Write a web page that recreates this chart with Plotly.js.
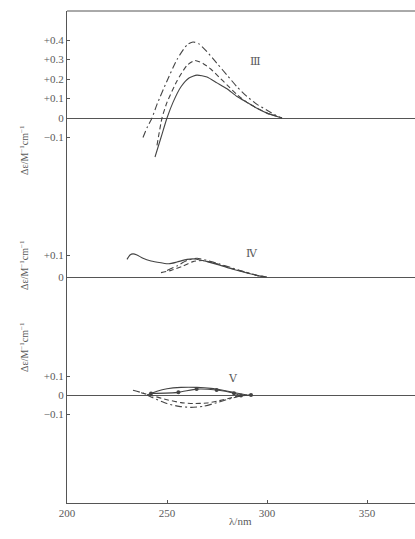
<!DOCTYPE html>
<html>
<head>
<meta charset="utf-8">
<script src="https://cdn.plot.ly/plotly-3.0.1.min.js"></script>
<style>html,body{margin:0;padding:0;background:#fff;}#chart{width:415px;height:539px;}</style>
</head>
<body>
<div id="chart"></div>
<script>
// ---------- data (wavelength nm, Δε) ----------
// Panel III
const iiiSolidX   = [244, 247, 250, 253, 257, 261, 265, 270, 275, 280, 285, 290, 295, 300, 305, 307.5];
const iiiSolidY   = [-0.20, -0.10, 0.0, 0.08, 0.16, 0.205, 0.22, 0.21, 0.18, 0.15, 0.11, 0.08, 0.05, 0.025, 0.008, 0.0];
const iiiDashX    = [245, 247.5, 250, 255, 260, 264, 268, 272, 276, 280, 285, 290, 295, 300, 305, 307.5];
const iiiDashY    = [-0.14, 0.0, 0.08, 0.19, 0.27, 0.295, 0.28, 0.25, 0.21, 0.17, 0.12, 0.08, 0.05, 0.025, 0.008, 0.0];
const iiiDashDotX = [238, 240, 242.5, 245, 250, 255, 260, 263, 266, 270, 275, 280, 285, 290, 295, 300, 305, 307.5];
const iiiDashDotY = [-0.10, -0.05, 0.0, 0.07, 0.19, 0.30, 0.375, 0.39, 0.38, 0.34, 0.28, 0.22, 0.16, 0.11, 0.07, 0.04, 0.01, 0.0];
// Panel IV
const ivSolidX    = [230, 231.5, 233, 235, 238, 242, 247, 251, 255, 260, 264, 270, 276, 283, 290, 296, 300];
const ivSolidY    = [0.08, 0.10, 0.105, 0.10, 0.085, 0.073, 0.065, 0.06, 0.068, 0.08, 0.082, 0.07, 0.055, 0.035, 0.018, 0.005, 0.0];
const ivDashX     = [247, 252, 258, 263, 268, 275, 282, 290, 296, 300];
const ivDashY     = [0.02, 0.03, 0.05, 0.07, 0.075, 0.06, 0.04, 0.02, 0.005, 0.0];
const ivDashDotX  = [250, 255, 260, 265, 270, 276, 283, 290, 296, 300];
const ivDashDotY  = [0.03, 0.05, 0.075, 0.085, 0.075, 0.06, 0.04, 0.02, 0.005, 0.0];
// Panel V
const vSolidX     = [240, 245, 250, 257, 265, 272, 278, 284, 290];
const vSolidY     = [0.0, 0.02, 0.033, 0.04, 0.04, 0.035, 0.025, 0.012, 0.0];
const vDotX       = [242, 255.7, 264.8, 274.8, 283.5, 287, 292];
const vDotY       = [0.008, 0.014, 0.031, 0.026, 0.009, -0.003, 0.0];
const vDashX      = [237, 243, 250, 257, 263, 270, 276, 282, 287, 291];
const vDashY      = [0.012, -0.005, -0.025, -0.04, -0.045, -0.042, -0.03, -0.015, -0.003, 0.0];
const vDashDotX   = [233, 238, 243, 250, 256, 262, 268, 275, 282, 288, 292];
const vDashDotY   = [0.025, 0.01, -0.015, -0.045, -0.06, -0.065, -0.06, -0.04, -0.018, -0.003, 0.0];

const xTickVals = [200, 250, 300, 350];
const iiiTickVals = [-0.1, 0, 0.1, 0.2, 0.3, 0.4];
const iiiTickText = ["\u22120.1", "0", "+0.1", "+0.2", "+0.3", "+0.4"];
const ivTickVals = [0, 0.1];
const ivTickText = ["0", "+0.1"];
const vTickVals = [-0.1, 0, 0.1];
const vTickText = ["\u22120.1", "0", "+0.1"];
const panelLabels = ["\u2162", "\u2163", "\u2164"];
const yTitle = "\u0394\u03b5/M<sup>\u22121</sup>cm<sup>\u22121</sup>";
const xTitle = "\u03bb/nm";

// ---------- layout geometry (pixels) ----------
const W = 415, H = 539;
const L = 67, R = 0, T = 11, B = 36;
const plotTop = T, plotBot = H - B, plotH = plotBot - plotTop;
function frac(py) { return (plotBot - py) / plotH; }
// panels: [top px, bottom px, zero px, px per unit]
const panels = [
  {top: 11, bot: 200, zero: 118, ppu: 195},
  {top: 200, bot: 340, zero: 277, ppu: 220},
  {top: 340, bot: 503, zero: 395, ppu: 190}
];
function yr(p) { return [-(p.bot - p.zero) / p.ppu, (p.zero - p.top) / p.ppu]; }

const lineCol = '#444444';
const axCol = '#555555';
const txtCol = '#5a5a5a';
const fontFam = '"Liberation Serif", "DejaVu Serif", serif';

function tr(x, y, ya, dash, extra) {
  const t = {x: x, y: y, xaxis: 'x', yaxis: ya, type: 'scatter', mode: 'lines',
    line: {color: lineCol, width: 1.1, dash: dash, shape: 'spline', smoothing: 0.55},
    hoverinfo: 'skip', showlegend: false};
  return Object.assign(t, extra || {});
}

const data = [
  tr(iiiSolidX, iiiSolidY, 'y', 'solid'),
  tr(iiiDashX, iiiDashY, 'y', '5px,3px'),
  tr(iiiDashDotX, iiiDashDotY, 'y', '7px,3px,2px,3px'),
  tr(ivSolidX, ivSolidY, 'y2', 'solid'),
  tr(ivDashX, ivDashY, 'y2', '5px,3px'),
  tr(ivDashDotX, ivDashDotY, 'y2', '7px,3px,2px,3px'),
  tr(vSolidX, vSolidY, 'y3', 'solid'),
  tr(vDotX, vDotY, 'y3', 'solid', {mode: 'lines+markers', marker: {size: 4, color: lineCol}}),
  tr(vDashX, vDashY, 'y3', '5px,3px'),
  tr(vDashDotX, vDashDotY, 'y3', '7px,3px,2px,3px')
];

function yax(p, tv, tt) {
  return {
    domain: [frac(p.bot), frac(p.top)], range: yr(p), anchor: 'x',
    showgrid: false, zeroline: true, zerolinecolor: axCol, zerolinewidth: 1,
    showline: true, linecolor: axCol, linewidth: 1,
    ticks: 'inside', ticklen: 3, tickcolor: axCol,
    tickvals: tv, ticktext: tt,
    tickfont: {family: fontFam, size: 11, color: txtCol}
  };
}

const pxX = xp => (xp - L) / (W - L - R);

const annotations = [
  {x: 294, y: 0.29, xref: 'x', yref: 'y', text: panelLabels[0]},
  {x: 292.5, y: 0.11, xref: 'x', yref: 'y2', text: panelLabels[1]},
  {x: 283, y: 0.09, xref: 'x', yref: 'y3', text: panelLabels[2]}
].map(a => Object.assign(a, {showarrow: false, font: {family: fontFam, size: 11, color: txtCol}}));

[[123], [265], [374]].forEach(function (c) {
  annotations.push({x: pxX(16), y: frac(c[0]), xref: 'paper', yref: 'paper', text: yTitle,
    textangle: -90, showarrow: false, font: {family: fontFam, size: 10, color: txtCol}});
});
annotations.push({x: 286.5, y: frac(529), xref: 'x', yref: 'paper', text: xTitle, showarrow: false,
  font: {family: fontFam, size: 11, color: txtCol}});

const layout = {
  width: W, height: H,
  margin: {l: L, r: R, t: T, b: B, pad: 0},
  paper_bgcolor: '#ffffff', plot_bgcolor: '#ffffff',
  showlegend: false,
  xaxis: {
    range: [200, 200 + (W - L - R) / 2.0], anchor: 'y3',
    showgrid: false, zeroline: false, showline: true, linecolor: axCol, linewidth: 1,
    ticks: 'inside', ticklen: 3, tickcolor: axCol, tickvals: xTickVals,
    tickfont: {family: fontFam, size: 11, color: txtCol}
  },
  yaxis: yax(panels[0], iiiTickVals, iiiTickText),
  yaxis2: yax(panels[1], ivTickVals, ivTickText),
  yaxis3: yax(panels[2], vTickVals, vTickText),
  shapes: [
    {type: 'line', xref: 'paper', yref: 'paper', x0: 0, x1: 1, y0: 1, y1: 1,
     line: {color: axCol, width: 1}}
  ],
  annotations: annotations
};

Plotly.newPlot('chart', data, layout, {displayModeBar: false, staticPlot: true});
</script>
</body>
</html>
